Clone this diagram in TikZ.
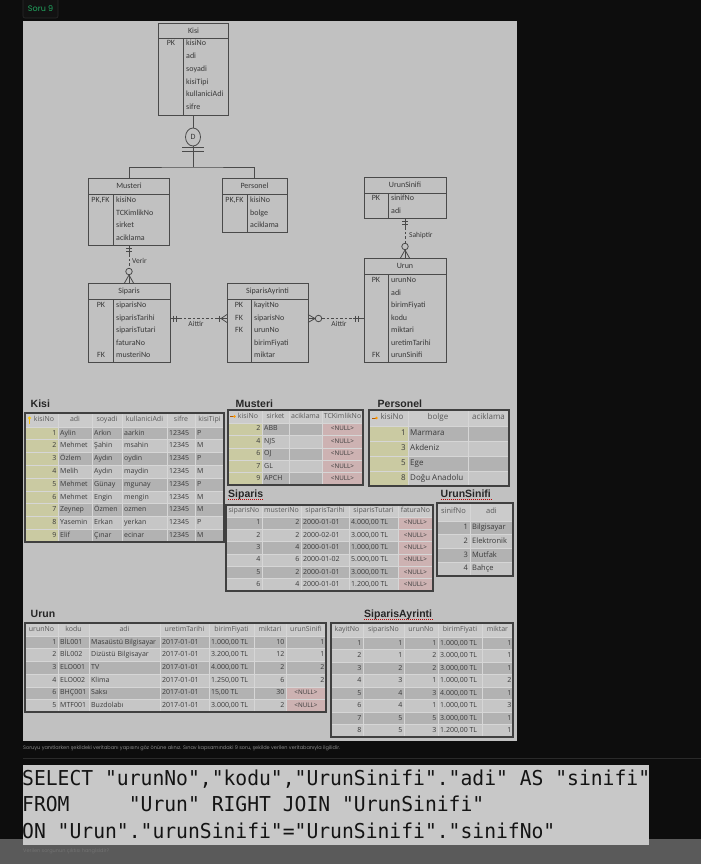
\documentclass[tikz,border=0pt]{standalone}
\usepackage{fontspec}
\setmainfont{Open Sans}
\newfontfamily\erfont{Carlito}
\newfontfamily\labfont{Liberation Sans}
\newfontfamily\webfont{Poppins}
\newfontfamily\sqlfont[FakeStretch=0.96]{DejaVu Sans Mono}
\usetikzlibrary{shapes.geometric,calc}

\definecolor{pagebg}{HTML}{0D0D0D}
\definecolor{tagfill}{HTML}{121212}
\definecolor{tagline}{HTML}{2A2A2A}
\definecolor{soru}{HTML}{22A861}
\definecolor{panel}{HTML}{C1C1C1}
\definecolor{rowdark}{HTML}{B2B2B2}
\definecolor{rowlight}{HTML}{C6C6C6}
\definecolor{headfill}{HTML}{CBCBCB}
\definecolor{keyfill}{HTML}{CACAA2}
\definecolor{nullfill}{HTML}{CDB2B2}
\definecolor{gridc}{HTML}{D6D6D6}
\definecolor{erc}{HTML}{4A4A4A}
\definecolor{ertext}{HTML}{383838}
\definecolor{cellc}{HTML}{3A3A3A}
\definecolor{headc}{HTML}{595959}
\definecolor{capc}{HTML}{8A8A8A}
\definecolor{footbar}{HTML}{5A5A5A}
\definecolor{footc}{HTML}{727272}
\definecolor{sqlbg}{HTML}{C8C8C8}

\tikzset{
  erbox/.style={draw=erc, line width=0.8pt, inner sep=0pt},
  erline/.style={draw=erc, line width=0.8pt},
  reldash/.style={erline, dash pattern=on 2.5pt off 2pt},
  ertitle/.style={font=\erfont\fontsize{8}{9}\selectfont, text=ertext, inner sep=0pt},
  erattr/.style={font=\erfont\fontsize{8}{9}\selectfont, text=ertext, anchor=west,
    inner sep=0pt, text height=5pt, text depth=1.5pt},
  erkey/.style={erattr, anchor=center},
  rellabel/.style={erattr, font=\erfont\fontsize{7.5}{8}\selectfont},
  crowcircle/.style={circle, draw=erc, line width=0.8pt, minimum size=6.5pt, inner sep=0pt},
  tablabel/.style={font=\labfont\bfseries\fontsize{10.5}{12}\selectfont, text=black!85,
    anchor=base west, inner sep=0pt},
  squiggle/.style={draw=red!75!black, line width=1pt, dash pattern=on 1pt off 1pt},
  thead/.style={font=\fontsize{7}{8}\selectfont, text=headc, inner sep=0pt,
    text height=5pt, text depth=1.5pt},
  tnum/.style={font=\fontsize{7}{8}\selectfont, text=cellc, anchor=east, inner sep=0pt,
    text height=5pt, text depth=1.5pt},
  ttxt/.style={tnum, anchor=west},
  tnull/.style={tnum, anchor=center, font=\fontsize{6.3}{7}\selectfont},
  gridln/.style={draw=gridc, line width=0.6pt},
  tabframe/.style={draw=black!75, line width=1.1pt},
}

\begin{document}
\begin{tikzpicture}[x=1pt, y=-1pt]
\useasboundingbox (0,0) rectangle (701,864);
\fill[pagebg] (0,0) rectangle (701,864);

% ust etiket
\draw[fill=tagfill, draw=tagline, line width=0.6pt, rounded corners=2] (23,-3) rectangle (58,18);
\node[font=\webfont\fontsize{8}{9}\selectfont, text=soru] (soruTag) at (40.5,8.5) {Soru 9};
\fill[panel] (23,21) rectangle (517,741);

% ===== ER diyagrami =====
% Kisi
\node[erbox, minimum width=70, minimum height=92] (kisiE) at (193.5,69) {};
\draw[erline] (158.5,38) -- (228.5,38);
\draw[erline] (183,38) -- (183,115);
\node[ertitle] (kisiT) at (193.5,30.5) {Kisi};
\node[erkey] (kisiK1) at (171,44) {PK};
\foreach \a [count=\i] in {kisiNo,adi,soyadi,kisiTipi,kullaniciAdi,sifre}
  \node[erattr] (kisiA\i) at (186,{44+(\i-1)*12.8}) {\a};

% Musteri
\node[erbox, minimum width=81, minimum height=67] (musteriE) at (129,211.5) {};
\draw[erline] (88.5,194) -- (169.5,194);
\draw[erline] (113,194) -- (113,245);
\node[ertitle] (musteriT) at (129,186) {Musteri};
\node[erkey] (musteriK1) at (100.5,201) {PK,FK};
\foreach \a [count=\i] in {kisiNo,TCKimlikNo,sirket,aciklama}
  \node[erattr] (musteriA\i) at (116,{201+(\i-1)*12.5}) {\a};

% Personel
\node[erbox, minimum width=65, minimum height=54] (personelE) at (254.5,205) {};
\draw[erline] (222,194) -- (287,194);
\draw[erline] (247,194) -- (247,232);
\node[ertitle] (personelT) at (254.5,186) {Personel};
\node[erkey] (personelK1) at (234.5,201) {PK,FK};
\foreach \a [count=\i] in {kisiNo,bolge,aciklama}
  \node[erattr] (personelA\i) at (250,{201+(\i-1)*12.5}) {\a};

% UrunSinifi
\node[erbox, minimum width=82, minimum height=41] (urunsinifiE) at (405,197.5) {};
\draw[erline] (364,193) -- (446,193);
\draw[erline] (388,193) -- (388,218);
\node[ertitle] (urunsinifiT) at (405,185) {UrunSinifi};
\node[erkey] (urunsinifiK1) at (376,199) {PK};
\foreach \a [count=\i] in {sinifNo,adi}
  \node[erattr] (urunsinifiA\i) at (391,{199+(\i-1)*12.5}) {\a};

% Urun
\node[erbox, minimum width=82, minimum height=104] (urunE) at (405,310) {};
\draw[erline] (364,274) -- (446,274);
\draw[erline] (388,274) -- (388,362);
\node[ertitle] (urunT) at (405,266) {Urun};
\node[erkey] (urunK1) at (376,281) {PK};
\node[erkey] (urunK2) at (376,356) {FK};
\foreach \a [count=\i] in {urunNo,adi,birimFiyati,kodu,miktari,uretimTarihi,urunSinifi}
  \node[erattr] (urunA\i) at (391,{281+(\i-1)*12.5}) {\a};

% Siparis
\node[erbox, minimum width=82, minimum height=79] (siparisE) at (129,322.5) {};
\draw[erline] (88,299) -- (170,299);
\draw[erline] (113,299) -- (113,362);
\node[ertitle] (siparisT) at (129,291.5) {Siparis};
\node[erkey] (siparisK1) at (101,306) {PK};
\node[erkey] (siparisK2) at (101,356) {FK};
\foreach \a [count=\i] in {siparisNo,siparisTarihi,siparisTutari,faturaNo,musteriNo}
  \node[erattr] (siparisA\i) at (116,{306+(\i-1)*12.5}) {\a};

% SiparisAyrinti
\node[erbox, minimum width=81, minimum height=79] (sayE) at (267.5,322.5) {};
\draw[erline] (227,299) -- (308,299);
\draw[erline] (251,299) -- (251,362);
\node[ertitle] (sayT) at (267.5,291.5) {SiparisAyrinti};
\node[erkey] (sayK1) at (239,306) {PK};
\node[erkey] (sayK2) at (239,318.5) {FK};
\node[erkey] (sayK3) at (239,331) {FK};
\foreach \a [count=\i] in {kayitNo,siparisNo,urunNo,birimFiyati,miktar}
  \node[erattr] (sayA\i) at (254,{306+(\i-1)*12.5}) {\a};

% kalitim (D)
\node[erbox, ellipse, minimum width=15, minimum height=18, font=\erfont\fontsize{8}{9}\selectfont,
  text=ertext] (dDisc) at (193,137) {D};
\coordinate (isaJoin) at (193,167);
\draw[erline] (dDisc.north |- kisiE.south) -- (dDisc.north);
\draw[erline] (dDisc.south) -- (isaJoin);
\draw[erline] (182,147) -- (204,147);
\draw[erline] (182,151) -- (204,151);
\draw[erline] (musteriE.north) |- (isaJoin) -| (personelE.north);

% Verir
\draw[erline] (musteriE.south) -- ++(0,9) coordinate (verirA);
\draw[erline] (126,248.5) -- (132,248.5);
\draw[erline] (126,251.5) -- (132,251.5);
\node[crowcircle] (verirO) at (129,271.5) {};
\draw[reldash] (verirA) -- (verirO.north);
\draw[erline] (verirO.south) -- (siparisE.north);
\draw[erline] (124.5,283) -- (129,275) -- (133.5,283);
\node[rellabel] (verirL) at (132,262) {Verir};

% Sahiptir
\draw[erline] (urunsinifiE.south) -- ++(0,9) coordinate (sahipA);
\draw[erline] (402,221) -- (408,221);
\draw[erline] (402,224) -- (408,224);
\node[crowcircle] (sahipO) at (405,246.5) {};
\draw[reldash] (sahipA) -- (sahipO.north);
\draw[erline] (sahipO.south) -- (urunE.north);
\draw[erline] (400.5,258) -- (405,250) -- (409.5,258);
\node[rellabel] (sahipL) at (409,236) {Sahiptir};

% Siparis - SiparisAyrinti
\coordinate (ait1L) at (siparisE.east |- sayA2.west);
\coordinate (ait1R) at (sayE.west |- sayA2.west);
\draw[erline] (ait1L) -- ++(9,0) coordinate (ait1A);
\draw[erline] (ait1R) -- ++(-9,0) coordinate (ait1B);
\draw[reldash] (ait1A) -- (ait1B);
\draw[erline] (173.5,315.5) -- (173.5,321.5);
\draw[erline] (176.5,315.5) -- (176.5,321.5);
\draw[erline] (219.5,315.5) -- (219.5,321.5);
\draw[erline] (227,314.5) -- (221,318.5) -- (227,322.5);
\node[rellabel, anchor=center] (ait1T) at (196,325) {Aittir};

% SiparisAyrinti - Urun
\coordinate (ait2L) at (sayE.east |- sayA2.west);
\coordinate (ait2R) at (urunE.west |- sayA2.west);
\node[crowcircle] (ait2O) at (318.5,318.5) {};
\draw[erline] (ait2L) -- (ait2O.west);
\draw[erline] (308,314.5) -- (315,318.5) -- (308,322.5);
\draw[erline] (ait2R) -- ++(-11,0) coordinate (ait2B);
\draw[reldash] (ait2O.east) -- (ait2B);
\draw[erline] (355,315.5) -- (355,321.5);
\draw[erline] (358.5,315.5) -- (358.5,321.5);
\node[rellabel, anchor=center] (ait2T) at (339,325) {Aittir};

% ===== Tablolar =====
% Kisi
\node[tablabel] (kisiL) at (30.5,407) {Kisi};
\fill[headfill] (25,413) rectangle (224,427);
\fill[rowlight] (25,427) rectangle (224,542);
\foreach \i in {1,3,...,9} \fill[rowdark] (25,{427+(\i-1)*12.78}) rectangle (224,{427+\i*12.78});
\fill[keyfill] (25,427) rectangle (58,542);
\foreach \x in {58,92,122,167,195} \draw[gridln] (\x,413) -- (\x,542);
\foreach \i in {0,...,8} \draw[gridln] (25,{427+\i*12.78}) -- (224,{427+\i*12.78});
\draw[tabframe] (25,413) rectangle (224,542);
\fill[yellow!60!orange] (29.5,418) circle (1.7);
\draw[yellow!50!orange, line width=0.9pt] (29.5,419) -- (29.5,424);
\foreach \x/\ca [count=\c] in {44/kisiNo,75/adi,107/soyadi,144.5/kullaniciAdi,181/sifre,209.5/kisiTipi}
  \node[thead] (kisiH\c) at (\x,420) {\ca};
\foreach \ca/\cb/\cc/\cd/\ce/\cf [count=\i] in {
  1/Aylin/Arkın/aarkin/12345/P,
  2/Mehmet/Şahin/msahin/12345/M,
  3/Özlem/Aydın/oydin/12345/P,
  4/Melih/Aydın/maydin/12345/M,
  5/Mehmet/Günay/mgunay/12345/P,
  6/Mehmet/Engin/mengin/12345/M,
  7/Zeynep/Özmen/ozmen/12345/M,
  8/Yasemin/Erkan/yerkan/12345/P,
  9/Elif/Çınar/ecinar/12345/M}{
  \pgfmathsetmacro\yy{427+(\i-0.5)*12.78}
  \node[tnum] (kisiR\i c1) at (56.5,\yy) {\ca};
  \node[ttxt] (kisiR\i c2) at (60,\yy) {\cb};
  \node[ttxt] (kisiR\i c3) at (94,\yy) {\cc};
  \node[ttxt] (kisiR\i c4) at (124,\yy) {\cd};
  \node[ttxt] (kisiR\i c5) at (169,\yy) {\ce};
  \node[ttxt] (kisiR\i c6) at (197,\yy) {\cf};
}

% Musteri
\node[tablabel] (musteriL) at (235.5,407) {Musteri};
\draw[squiggle] ($(musteriL.base west)+(0,2)$) -- ($(musteriL.base east)+(0,2)$);
\fill[headfill] (228,410) rectangle (363,423);
\fill[rowlight] (228,423) rectangle (363,485);
\foreach \i in {1,3,5} \fill[rowdark] (228,{423+(\i-1)*12.4}) rectangle (363,{423+\i*12.4});
\fill[keyfill] (228,423) rectangle (262,485);
\fill[nullfill] (322,423) rectangle (363,485);
\foreach \x in {262,289,322} \draw[gridln] (\x,410) -- (\x,485);
\foreach \i in {0,...,4} \draw[gridln] (228,{423+\i*12.4}) -- (363,{423+\i*12.4});
\draw[tabframe] (228,410) rectangle (363,485);
\draw[orange!70!black, line width=0.6pt] (230,416.5) -- (234,416.5);
\fill[orange!80!yellow] (234.5,416.5) circle (1.3);
\foreach \x/\ca [count=\c] in {248/kisiNo,275.5/sirket,305.5/aciklama,342.5/TCKimlikNo}
  \node[thead] (musteriH\c) at (\x,416.5) {\ca};
\foreach \ca/\cb [count=\i] in {2/ABB,4/NJS,6/OJ,7/GL,9/APCH}{
  \pgfmathsetmacro\yy{423+(\i-0.5)*12.4}
  \node[tnum] (musteriR\i c1) at (260.5,\yy) {\ca};
  \node[ttxt] (musteriR\i c2) at (264,\yy) {\cb};
  \node[tnull] (musteriR\i c4) at (342.5,\yy) {<NULL>};
}

% Personel
\node[tablabel] (personelL) at (377.5,407) {Personel};
\fill[headfill] (369,410) rectangle (509,426);
\fill[rowlight] (369,426) rectangle (509,486);
\foreach \i in {1,3} \fill[rowdark] (369,{426+(\i-1)*15}) rectangle (509,{426+\i*15});
\fill[keyfill] (369,426) rectangle (408,486);
\foreach \x in {408,468} \draw[gridln] (\x,410) -- (\x,486);
\foreach \i in {0,...,3} \draw[gridln] (369,{426+\i*15}) -- (509,{426+\i*15});
\draw[tabframe] (369,410) rectangle (509,486);
\draw[orange!70!black, line width=0.6pt] (372,418) -- (376,418);
\fill[orange!80!yellow] (376.5,418) circle (1.4);
\foreach \x/\ca [count=\c] in {392/kisiNo,438/bolge,488.5/aciklama}
  \node[thead, font=\fontsize{8}{9}\selectfont] (personelH\c) at (\x,418) {\ca};
\foreach \ca/\cb [count=\i] in {1/Marmara,3/Akdeniz,5/Ege,8/Doğu Anadolu}{
  \pgfmathsetmacro\yy{426+(\i-0.5)*15}
  \node[tnum, font=\fontsize{8}{9}\selectfont] (personelR\i c1) at (406,\yy) {\ca};
  \node[ttxt, font=\fontsize{8}{9}\selectfont] (personelR\i c2) at (410,\yy) {\cb};
}

% Siparis
\node[tablabel] (siparisL) at (228,497) {Siparis};
\draw[squiggle] ($(siparisL.base west)+(0,2)$) -- ($(siparisL.base east)+(0,2)$);
\fill[headfill] (226,505) rectangle (433,517);
\fill[rowlight] (226,517) rectangle (433,591);
\foreach \i in {1,3,5} \fill[rowdark] (226,{517+(\i-1)*12.33}) rectangle (433,{517+\i*12.33});
\fill[nullfill] (398,517) rectangle (433,591);
\foreach \x in {262,301,349,398} \draw[gridln] (\x,505) -- (\x,591);
\foreach \i in {0,...,5} \draw[gridln] (226,{517+\i*12.33}) -- (433,{517+\i*12.33});
\draw[tabframe] (226,505) rectangle (433,591);
\foreach \x/\ca [count=\c] in {244/siparisNo,281.5/musteriNo,325/siparisTarihi,373.5/siparisTutari,415.5/faturaNo}
  \node[thead] (siparisH\c) at (\x,511) {\ca};
\foreach \ca/\cb/\cc/\cd [count=\i] in {
  1/2/2000-01-01/4.000{,}00 TL,
  2/2/2000-02-01/3.000{,}00 TL,
  3/4/2000-01-01/1.000{,}00 TL,
  4/6/2000-01-02/5.000{,}00 TL,
  5/2/2000-01-01/3.000{,}00 TL,
  6/4/2000-01-01/1.200{,}00 TL}{
  \pgfmathsetmacro\yy{517+(\i-0.5)*12.33}
  \node[tnum] (siparisR\i c1) at (260.5,\yy) {\ca};
  \node[tnum] (siparisR\i c2) at (299.5,\yy) {\cb};
  \node[ttxt] (siparisR\i c3) at (303,\yy) {\cc};
  \node[ttxt] (siparisR\i c4) at (351,\yy) {\cd};
  \node[tnull] (siparisR\i c5) at (415.5,\yy) {<NULL>};
}

% UrunSinifi
\node[tablabel] (urunsinifiL) at (440.5,497) {UrunSinifi};
\draw[squiggle] ($(urunsinifiL.base west)+(0,2)$) -- ($(urunsinifiL.base east)+(0,2)$);
\fill[headfill] (437,503) rectangle (513,521);
\fill[rowlight] (437,521) rectangle (513,576);
\foreach \i in {1,3} \fill[rowdark] (437,{521+(\i-1)*13.75}) rectangle (513,{521+\i*13.75});
\draw[gridln] (470,503) -- (470,576);
\foreach \i in {0,...,3} \draw[gridln] (437,{521+\i*13.75}) -- (513,{521+\i*13.75});
\draw[tabframe] (437,503) rectangle (513,576);
\foreach \x/\ca [count=\c] in {453.5/sinifNo,491.5/adi}
  \node[thead, font=\fontsize{7.5}{8}\selectfont] (urunsinifiH\c) at (\x,512) {\ca};
\foreach \ca/\cb [count=\i] in {1/Bilgisayar,2/Elektronik,3/Mutfak,4/Bahçe}{
  \pgfmathsetmacro\yy{521+(\i-0.5)*13.75}
  \node[tnum, font=\fontsize{7.5}{8}\selectfont] (urunsinifiR\i c1) at (468,\yy) {\ca};
  \node[ttxt, font=\fontsize{7.5}{8}\selectfont] (urunsinifiR\i c2) at (472,\yy) {\cb};
}

% Urun
\node[tablabel] (urunL) at (30.5,617) {Urun};
\fill[headfill] (25,623) rectangle (326,636);
\fill[rowlight] (25,636) rectangle (326,712);
\foreach \i in {1,3,5} \fill[rowdark] (25,{636+(\i-1)*12.7}) rectangle (326,{636+\i*12.7});
\fill[nullfill] (286,{636+4*12.7}) rectangle (326,712);
\foreach \x in {58,89,160,209,254,286} \draw[gridln] (\x,623) -- (\x,712);
\foreach \i in {0,...,5} \draw[gridln] (25,{636+\i*12.7}) -- (326,{636+\i*12.7});
\draw[tabframe] (25,623) rectangle (326,712);
\foreach \x/\ca [count=\c] in {41.5/urunNo,73.5/kodu,124.5/adi,184.5/uretimTarihi,231.5/birimFiyati,270/miktari,306/urunSinifi}
  \node[thead] (urunH\c) at (\x,629.5) {\ca};
\foreach \ca/\cb/\cc/\cd/\ce/\cf [count=\i] in {
  1/BİL001/Masaüstü Bilgisayar/2017-01-01/1.000{,}00 TL/10,
  2/BİL002/Dizüstü Bilgisayar/2017-01-01/3.200{,}00 TL/12,
  3/ELO001/TV/2017-01-01/4.000{,}00 TL/2,
  4/ELO002/Klima/2017-01-01/1.250{,}00 TL/6,
  6/BHÇ001/Saksı/2017-01-01/15{,}00 TL/30,
  5/MTF001/Buzdolabı/2017-01-01/3.000{,}00 TL/2}{
  \pgfmathsetmacro\yy{636+(\i-0.5)*12.7}
  \node[tnum] (urunR\i c1) at (56.5,\yy) {\ca};
  \node[ttxt] (urunR\i c2) at (60,\yy) {\cb};
  \node[ttxt] (urunR\i c3) at (91,\yy) {\cc};
  \node[ttxt] (urunR\i c4) at (162,\yy) {\cd};
  \node[ttxt] (urunR\i c5) at (211,\yy) {\ce};
  \node[tnum] (urunR\i c6) at (284.5,\yy) {\cf};
}
\foreach \ca [count=\i] in {1,1,2,2}
  \node[tnum] (urunR\i c7) at (324.5,{636+(\i-0.5)*12.7}) {\ca};
\foreach \i in {5,6}
  \node[tnull] (urunR\i c7) at (306,{636+(\i-0.5)*12.7}) {<NULL>};

% SiparisAyrinti
\node[tablabel] (sayL) at (364,617) {SiparisAyrinti};
\draw[squiggle] ($(sayL.base west)+(0,2)$) -- ($(sayL.base east)+(0,2)$);
\fill[headfill] (331,623) rectangle (513,637);
\fill[rowlight] (331,637) rectangle (513,737);
\foreach \i in {1,3,...,7} \fill[rowdark] (331,{637+(\i-1)*12.5}) rectangle (513,{637+\i*12.5});
\foreach \x in {363,404,438,482} \draw[gridln] (\x,623) -- (\x,737);
\foreach \i in {0,...,7} \draw[gridln] (331,{637+\i*12.5}) -- (513,{637+\i*12.5});
\draw[tabframe] (331,623) rectangle (513,737);
\foreach \x/\ca [count=\c] in {347/kayitNo,383.5/siparisNo,421/urunNo,460/birimFiyati,497.5/miktar}
  \node[thead] (sayH\c) at (\x,630) {\ca};
\foreach \ca/\cb/\cc/\cd/\ce [count=\i] in {
  1/1/1/1.000{,}00 TL/1,
  2/1/2/3.000{,}00 TL/1,
  3/2/2/3.000{,}00 TL/1,
  4/3/1/1.000{,}00 TL/2,
  5/4/3/4.000{,}00 TL/1,
  6/4/1/1.000{,}00 TL/3,
  7/5/5/3.000{,}00 TL/1,
  8/5/3/1.200{,}00 TL/1}{
  \pgfmathsetmacro\yy{637+(\i-0.5)*12.5}
  \node[tnum] (sayR\i c1) at (361.5,\yy) {\ca};
  \node[tnum] (sayR\i c2) at (402.5,\yy) {\cb};
  \node[tnum] (sayR\i c3) at (436.5,\yy) {\cc};
  \node[ttxt] (sayR\i c4) at (440,\yy) {\cd};
  \node[tnum] (sayR\i c5) at (511.5,\yy) {\ce};
}

% alt kisim
\node[font=\webfont\fontsize{5}{6}\selectfont, text=capc, anchor=west, inner sep=0pt] (caption)
  at (23,748.5) {Soruyu yanıtlarken şekildeki veritabanı yapısını göz önüne alınız. Sınav kapsamındaki 9 soru, şekilde verilen veritabanıyla ilgilidir.};
\draw[tagline, line width=0.6pt] (23,758) -- (701,758);
\fill[footbar] (0,839) rectangle (701,864);
\node[font=\webfont\fontsize{5}{6}\selectfont, text=footc, anchor=west, inner sep=0pt] (question)
  at (23,851) {Verilen sorgunun çıktısı hangisidir?};
\fill[sqlbg] (23,765) rectangle (649,845);
\foreach \ln/\yb [count=\c] in {{SELECT "urunNo"{,}"kodu"{,}"UrunSinifi"."adi" AS "sinifi"}/785,
  {FROM\ \ \ \ \ "Urun" RIGHT JOIN "UrunSinifi"}/811.5,
  {ON "Urun"."urunSinifi"="UrunSinifi"."sinifNo"}/838}
  \node[font=\sqlfont\fontsize{20.5}{22}\selectfont, text=black!92, anchor=base west, inner sep=0pt]
    (sql\c) at (22,\yb) {\ln};
\end{tikzpicture}
\end{document}
